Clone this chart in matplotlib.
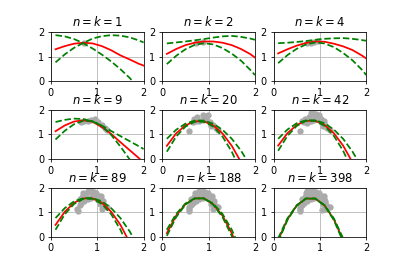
import matplotlib
matplotlib.use("Agg")
import matplotlib.pyplot as plt

# sample counts shown in each panel title
ns = [1, 2, 4, 9, 20, 42, 89, 188, 398]

# x positions where the curves were read
xs = [0.1, 0.3, 0.5, 0.7, 0.9, 1.1, 1.3, 1.5, 1.7, 1.9, 2.0]

# red mean curve per panel
mean = [
    [1.30, 1.43, 1.53, 1.57, 1.54, 1.43, 1.26, 1.05, 0.88, 0.70, 0.63],
    [1.11, 1.31, 1.47, 1.57, 1.62, 1.62, 1.57, 1.47, 1.31, 1.10, 0.96],
    [1.13, 1.30, 1.45, 1.56, 1.62, 1.61, 1.53, 1.42, 1.27, 1.05, 0.92],
    [1.13, 1.37, 1.53, 1.58, 1.52, 1.30, 1.02, 0.68, 0.35, 0.02, -0.15],
    [0.53, 1.04, 1.37, 1.54, 1.54, 1.37, 1.04, 0.53, -0.14, -0.98, -1.46],
    [0.54, 1.05, 1.39, 1.56, 1.56, 1.39, 1.05, 0.54, -0.14, -0.99, -1.47],
    [0.48, 1.02, 1.39, 1.57, 1.57, 1.39, 1.02, 0.48, -0.25, -1.15, -1.67],
    [0.14, 0.86, 1.33, 1.57, 1.57, 1.33, 0.86, 0.14, -0.81, -2.00, -2.69],
    [-0.14, 0.71, 1.28, 1.56, 1.56, 1.28, 0.71, -0.14, -1.28, -2.70, -3.53],
]

# first green dashed curve per panel
green_a = [
    [1.88, 1.83, 1.72, 1.55, 1.33, 1.08, 0.80, 0.48, 0.12, -0.31, -0.54],
    [1.54, 1.58, 1.62, 1.67, 1.72, 1.78, 1.83, 1.85, 1.81, 1.74, 1.69],
    [1.55, 1.57, 1.60, 1.64, 1.69, 1.73, 1.75, 1.76, 1.73, 1.68, 1.65],
    [1.51, 1.60, 1.65, 1.63, 1.53, 1.36, 1.14, 0.93, 0.72, 0.51, 0.40],
    [0.82, 1.19, 1.44, 1.57, 1.57, 1.44, 1.19, 0.82, 0.33, -0.30, -0.65],
    [0.82, 1.20, 1.46, 1.58, 1.58, 1.46, 1.20, 0.82, 0.30, -0.34, -0.70],
    [0.76, 1.17, 1.45, 1.58, 1.58, 1.45, 1.17, 0.76, 0.21, -0.47, -0.86],
    [0.28, 0.93, 1.36, 1.57, 1.57, 1.36, 0.93, 0.28, -0.58, -1.65, -2.27],
    [-0.07, 0.75, 1.29, 1.57, 1.57, 1.29, 0.75, -0.07, -1.15, -2.51, -3.30],
]

# second green dashed curve per panel
green_b = [
    [0.76, 1.09, 1.36, 1.56, 1.74, 1.84, 1.88, 1.86, 1.79, 1.66, 1.58],
    [0.69, 1.03, 1.30, 1.48, 1.55, 1.50, 1.35, 1.12, 0.83, 0.45, 0.24],
    [0.73, 1.06, 1.32, 1.50, 1.58, 1.54, 1.39, 1.15, 0.85, 0.47, 0.24],
    [0.79, 1.15, 1.42, 1.56, 1.55, 1.35, 0.98, 0.50, -0.03, -0.60, -0.90],
    [0.29, 0.91, 1.32, 1.52, 1.52, 1.32, 0.91, 0.29, -0.53, -1.56, -2.15],
    [0.33, 0.94, 1.35, 1.56, 1.56, 1.35, 0.94, 0.33, -0.49, -1.50, -2.09],
    [0.28, 0.92, 1.34, 1.55, 1.55, 1.34, 0.92, 0.28, -0.57, -1.63, -2.24],
    [0.03, 0.80, 1.31, 1.57, 1.57, 1.31, 0.80, 0.03, -0.99, -2.27, -3.00],
    [-0.21, 0.68, 1.27, 1.56, 1.56, 1.27, 0.68, -0.21, -1.40, -2.88, -3.73],
]

# observed points (cumulative), and how many are shown per panel
pts_x = [0.72, 0.87, 0.80, 0.95, 0.66, 1.02, 1.10, 1.16, 1.21,
         0.57, 0.68, 0.76, 0.88, 0.98, 1.06,
         0.80, 0.86, 0.92, 0.62, 1.03, 1.08, 0.72,
         0.58, 0.62, 0.70, 1.08, 1.10, 1.12, 0.66, 0.74,
         0.58, 0.64, 0.82, 0.90, 1.05, 1.10, 1.04, 0.72]
pts_y = [1.57, 1.60, 1.55, 1.62, 1.52, 1.50, 1.38, 1.26, 1.20,
         1.12, 1.62, 1.72, 1.78, 1.80, 1.35,
         1.86, 1.90, 1.84, 1.55, 1.65, 1.55, 1.45,
         1.05, 1.30, 1.80, 1.68, 1.12, 1.45, 1.40, 1.62,
         1.20, 1.45, 1.80, 1.70, 1.60, 1.25, 1.08, 1.88]
shown = [1, 2, 4, 9, 15, 22, 30, 35, 38]

fig, axes = plt.subplots(3, 3, figsize=(407 / 70, 271 / 70), dpi=70)
fig.subplots_adjust(bottom=0.127, top=0.881, hspace=0.6)

for i, ax in enumerate(axes.flat):
    k = shown[i]
    ax.plot(pts_x[:k], pts_y[:k], 'o', color='#aaaaaa', ms=6.5, mec='none', zorder=1)
    ax.plot(xs, mean[i], 'r-', lw=1.8, zorder=2)
    ax.plot(xs, green_a[i], 'g--', lw=1.8, zorder=3)
    ax.plot(xs, green_b[i], 'g--', lw=1.8, zorder=3)
    ax.set_xlim(0, 2)
    ax.set_ylim(0, 2)
    ax.set_xticks([0, 1, 2])
    ax.set_yticks([0, 1, 2])
    ax.grid(True)
    ax.set_title(f'$n = k = {ns[i]}$')

fig.savefig('out.png', dpi=70)
